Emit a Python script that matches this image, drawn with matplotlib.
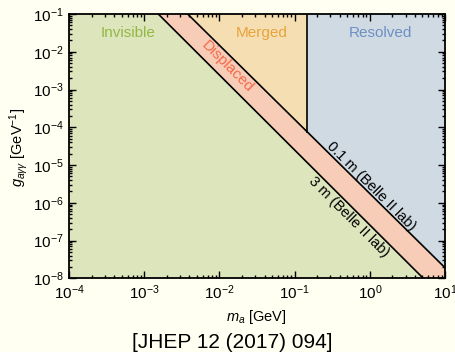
import numpy as np
import matplotlib
matplotlib.use("Agg")
import matplotlib.pyplot as plt

plt.rcParams['font.family'] = ['Liberation Sans', 'DejaVu Sans']
plt.rcParams['mathtext.fontset'] = 'custom'
plt.rcParams['mathtext.rm'] = 'Liberation Sans'
plt.rcParams['mathtext.it'] = 'Liberation Sans:italic'

# decay-length boundaries (m_a in GeV, g in GeV^-1), straight in log-log
line_3m_m = [10**-2.813, 10**0.711]
line_3m_g = [1e-1, 1e-8]
line_01m_m = [10**-2.422, 10.0]
line_01m_g = [1e-1, 10**-7.72]
m_split = 0.147   # merged / resolved photon boundary

xlim = (1e-4, 10.0)
ylim = (1e-8, 1e-1)

# where the vertical boundary meets the 0.1 m line
g_split = 10**np.interp(np.log10(m_split), np.log10(line_01m_m), np.log10(line_01m_g))

c_inv, c_disp, c_merge, c_res = '#dde5bd', '#f8cdb7', '#f5dfb2', '#cfdae2'
t_inv, t_disp, t_merge, t_res = '#93b844', '#f26a4b', '#e8a33c', '#6e8fc4'

fig = plt.figure(figsize=(4.55, 3.52), dpi=100, facecolor='#fffff2')
ax = fig.add_axes([69/455, 1-278.3/352, 376/455, 264.3/352])
ax.set_xscale('log')
ax.set_yscale('log')

ax.fill([xlim[0], xlim[0], line_3m_m[0], line_3m_m[1]],
        [ylim[0], ylim[1], line_3m_g[0], line_3m_g[1]], color=c_inv, lw=0)
ax.fill([line_3m_m[0], line_01m_m[0], line_01m_m[1], xlim[1], line_3m_m[1]],
        [line_3m_g[0], line_01m_g[0], line_01m_g[1], ylim[0], line_3m_g[1]],
        color=c_disp, lw=0)
ax.fill([line_01m_m[0], m_split, m_split], [ylim[1], ylim[1], g_split],
        color=c_merge, lw=0)
ax.fill([m_split, xlim[1], xlim[1], m_split], [ylim[1], ylim[1], line_01m_g[1], g_split],
        color=c_res, lw=0)

ax.plot(line_3m_m, line_3m_g, color='k', lw=1.2)
ax.plot(line_01m_m, line_01m_g, color='k', lw=1.2)
ax.plot([m_split, m_split], [g_split, ylim[1]], color='k', lw=1.2)

ax.set_xlim(*xlim)
ax.set_ylim(*ylim)

ax.text(6.1e-4, 0.0314, 'Invisible', color=t_inv, fontsize=11, ha='center', va='center')
ax.text(0.0363, 0.0314, 'Merged', color=t_merge, fontsize=11, ha='center', va='center')
ax.text(1.39, 0.0314, 'Resolved', color=t_res, fontsize=11, ha='center', va='center')
ax.text(0.01262, 3.94e-3, 'Displaced', color=t_disp, fontsize=11, rotation=-45,
        rotation_mode='anchor', ha='center', va='center')
ax.text(1.04, 2.79e-6, '0.1 m (Belle II lab)', color='k', fontsize=10.5, rotation=-45,
        rotation_mode='anchor', ha='center', va='center')
ax.text(0.528, 4.2e-7, '3 m (Belle II lab)', color='k', fontsize=10.5, rotation=-45,
        rotation_mode='anchor', ha='center', va='center')

ax.xaxis.set_major_locator(matplotlib.ticker.LogLocator(base=10, numticks=20))
ax.yaxis.set_major_locator(matplotlib.ticker.LogLocator(base=10, numticks=20))
ax.xaxis.set_minor_locator(matplotlib.ticker.LogLocator(base=10, subs=np.arange(2, 10), numticks=20))
ax.yaxis.set_minor_locator(matplotlib.ticker.LogLocator(base=10, subs=np.arange(2, 10), numticks=20))
ax.xaxis.set_minor_formatter(matplotlib.ticker.NullFormatter())
ax.yaxis.set_minor_formatter(matplotlib.ticker.NullFormatter())
ax.tick_params(which='both', direction='in', top=True, right=True, labelsize=11, width=1)
ax.tick_params(which='major', length=5, pad=4)
ax.tick_params(which='minor', length=2.5)
for s in ax.spines.values():
    s.set_linewidth(1.3)

fig.text(19/455, 1-147/352, r'$g_{a\gamma\gamma}$ [GeV$^{-1}$]', rotation=90,
         ha='center', va='center', fontsize=10.5)
fig.text(256/455, 1-317/352, r'$m_a$ [GeV]', ha='center', va='center', fontsize=10.5)
fig.text(232/455, 1-342/352, '[JHEP 12 (2017) 094]', ha='center', va='center', fontsize=15)

fig.savefig('out.png', dpi=100, facecolor=fig.get_facecolor())
